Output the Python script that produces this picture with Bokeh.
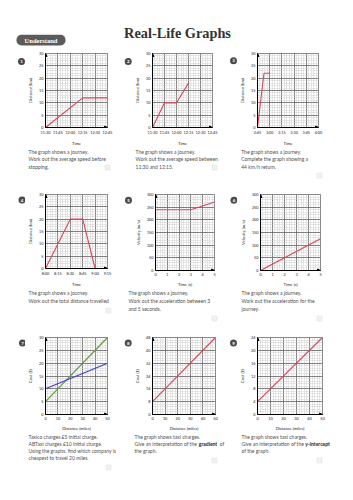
from bokeh.plotting import figure
from bokeh.layouts import column, row
from bokeh.models import Range1d, FixedTicker, Label, Arrow, NormalHead
from bokeh.embed import file_html
from bokeh.resources import INLINE

# ---------------- data ----------------
title_text = "Real-Life Graphs"
badge_text = "Understand"

p1_tick_labels = ["11:30", "11:45", "12:00", "12:15", "12:30", "12:45"]
p1_time = ["11:30", "12:15", "12:45"]
p1_distance = [0, 12, 12]

p2_tick_labels = ["11:30", "11:45", "12:00", "12:15", "12:30", "12:45"]
p2_time = ["11:30", "11:45", "12:00", "12:15"]
p2_distance = [0, 10, 10, 18]

p3_tick_labels = ["2:45", "3:00", "3:15", "3:30", "3:45", "4:00"]
p3_time = ["2:45", "2:53", "3:00"]
p3_distance = [0, 22, 22]

p4_tick_labels = ["8:00", "8:15", "8:30", "8:45", "9:00", "9:15"]
p4_time = ["8:00", "8:30", "8:45", "9:00"]
p4_distance = [0, 20, 20, 0]

p5_time = [0, 3, 5]
p5_velocity = [240, 240, 270]

p6_time = [0, 5]
p6_velocity = [0, 125]

p7_distance = [0, 50]
p7_taxico = [5, 30]
p7_abtaxi = [10, 20]

p8_distance = [0, 50]
p8_cost = [8, 48]

p9_distance = [0, 50]
p9_cost = [4, 24]

time_ticks = [0, 15, 30, 45, 60, 75]
dist_ticks = [0, 5, 10, 15, 20, 25, 30]
time_s_ticks = [0, 1, 2, 3, 4, 5]
vel_ticks = [0, 50, 100, 150, 200, 250, 300]
miles_ticks = [0, 10, 20, 30, 40, 50]
cost7_ticks = [0, 5, 10, 15, 20, 25, 30]
cost8_ticks = [0, 8, 16, 24, 32, 40, 48]
cost9_ticks = [0, 4, 8, 12, 16, 20, 24]

q1 = ["The graph shows a journey.", "Work out the average speed before", "stopping."]
q2 = ["The graph shows a journey.", "Work out the average speed between", "11:30 and 12:15."]
q3 = ["The graph shows a journey.", "Complete the graph showing a", "44 km/h return."]
q4 = ["The graph shows a journey.", "Work out the total distance travelled"]
q5 = ["The graph shows a journey.", "Work out the acceleration between 3", "and 5 seconds."]
q6 = ["The graph shows a journey.", "Work out the acceleration for the", "journey."]
q7 = ["Taxico charges \u00a35 initial charge.", "ABTaxi charges \u00a310 initial charge.",
      "Using the graphs, find which company is", "cheapest to travel 20 miles."]
q8 = ["The graph shows taxi charges.", "Give an interpretation of the ", "the graph."]
q9 = ["The graph shows taxi charges.", "Give an interpretation of the ", "of the graph."]

RED = "#d8465c"
GREEN = "#5e9b3a"
BLUE = "#3f3fcf"
TXT = "#505050"
FONT = "Lato"


def minutes(t, base):
    h, m = t.split(":")
    bh, bm = base.split(":")
    return (int(h) * 60 + int(m)) - (int(bh) * 60 + int(bm))


def blank(width, height, x0, y0):
    p = figure(width=width, height=height, x_range=Range1d(x0, x0 + width),
               y_range=Range1d(y0 + height, y0), output_backend="svg",
               toolbar_location=None, min_border=0)
    p.axis.visible = False
    p.grid.visible = False
    p.outline_line_color = None
    return p


def chart(width, height, left, right, top, bottom, xticks, xlabels, yticks, xlabel, ylabel):
    x_end = xticks[-1]
    y_end = yticks[-1]
    p = figure(width=width, height=height, x_range=Range1d(0, x_end), y_range=Range1d(0, y_end),
               output_backend="svg", toolbar_location=None,
               min_border_left=left, min_border_right=right,
               min_border_top=top, min_border_bottom=bottom)
    xs = (xticks[1] - xticks[0]) / 5
    ys = (yticks[1] - yticks[0]) / 5
    xminor = [i * xs for i in range(int(round(x_end / xs)) + 1)]
    yminor = [i * ys for i in range(int(round(y_end / ys)) + 1)]
    p.xaxis.ticker = FixedTicker(ticks=xticks, minor_ticks=xminor)
    p.yaxis.ticker = FixedTicker(ticks=yticks, minor_ticks=yminor)
    p.xgrid.ticker = p.xaxis.ticker
    p.ygrid.ticker = p.yaxis.ticker
    if xlabels is not None:
        p.xaxis.major_label_overrides = {t: l for t, l in zip(xticks, xlabels)}
    for g in (p.xgrid, p.ygrid):
        g.grid_line_color = "#555555"
        g.grid_line_width = 0.7
        g.minor_grid_line_color = "#cccccc"
        g.minor_grid_line_width = 0.45
    p.outline_line_color = "#555555"
    p.outline_line_width = 0.7
    for ax in (p.xaxis, p.yaxis):
        ax.axis_line_color = "black"
        ax.axis_line_width = 1
        ax.major_tick_line_color = None
        ax.minor_tick_line_color = None
        ax.major_tick_out = 0
        ax.major_tick_in = 0
        ax.minor_tick_out = 0
        ax.minor_tick_in = 0
        ax.major_label_text_font = FONT
        ax.major_label_text_font_size = "3.8px"
        ax.major_label_text_color = "#222"
        ax.major_label_standoff = 2
        ax.axis_label_text_font = FONT
        ax.axis_label_text_font_size = "4.2px"
        ax.axis_label_text_font_style = "normal"
        ax.axis_label_text_color = "#222"
        ax.axis_label_standoff = 3
    p.xaxis.axis_label = xlabel
    p.yaxis.axis_label = ylabel
    p.add_layout(Arrow(end=NormalHead(size=3, fill_color="black", line_color="black"),
                       x_start=0, y_start=0, x_end=x_end, y_end=0,
                       line_color="black", line_width=1))
    p.add_layout(Arrow(end=NormalHead(size=3, fill_color="black", line_color="black"),
                       x_start=0, y_start=0, x_end=0, y_end=y_end,
                       line_color="black", line_width=1))
    return p


def circle_fig(num, width, height, x0, y0, cx, cy):
    p = blank(width, height, x0, y0)
    p.scatter([cx], [cy], marker="circle", size=7, fill_color="#4a4a4a", line_color=None)
    p.add_layout(Label(x=cx, y=cy + 0.2, text=str(num), text_font=FONT, text_font_size="4.5px",
                       text_font_style="bold", text_color="white",
                       text_align="center", text_baseline="middle"))
    return p


def text_fig(width, height, x0, y0, tx, lines, ys, box):
    p = blank(width, height, x0, y0)
    for txt, yy in zip(lines, ys):
        p.add_layout(Label(x=tx, y=yy, text=txt, text_font=FONT, text_font_size="5px",
                           text_color=TXT, text_align="left", text_baseline="middle"))
    p.rect([box[0]], [box[1]], width=5, height=5, fill_color="#f2f2f2", line_color="#dcdcdc",
           line_width=0.5)
    return p


# layout geometry (page pixels)
COL_X = [0, 116, 229]
COL_W = [116, 113, 124]
COL_CW = [25, 16, 8]

# row 1: y 46..188  (chart 46..148, text 148..188)
# row 2: y 188..330 (chart 188..289, text 289..330)
# row 3: y 330..500 (chart 330..433, text 433..500)
ROWS = [(46, 102, 40, 7, 15), (188, 101, 41, 6, 15), (330, 103, 67, 7, 16)]


def cell(r, c, num, frame_l, frame_r, circ, tx, lines, ys, box, xticks, xlabels, yticks, xlabel, ylabel):
    y0, ch, th, top, bottom = ROWS[r]
    x0, W, cw = COL_X[c], COL_W[c], COL_CW[c]
    cf = circle_fig(num, cw, ch, x0, y0, circ[0], circ[1])
    left = int(round(frame_l - (x0 + cw)))
    right = int(round(x0 + W - frame_r))
    f = chart(W - cw, ch, left, right, top, bottom, xticks, xlabels, yticks, xlabel, ylabel)
    tf = text_fig(W, th, x0, y0 + ch, tx, lines, ys, box)
    return f, tf, column(row(cf, f), tf)


r1y = [151, 158.7, 166.5]
r2y = [292, 300, 308]
r3y = [436, 443, 450, 457]

f1, t1, c1 = cell(0, 0, 1, 41, 107, (21, 57), 28, q1, r1y, (107, 167),
                  time_ticks, p1_tick_labels, dist_ticks, "Time", "Distance (km)")
f1.line([minutes(t, p1_tick_labels[0]) for t in p1_time], p1_distance, line_color=RED, line_width=1.1)

f2, t2, c2 = cell(0, 1, 2, 147, 212, (127.7, 57), 135, q2, r1y, (214, 167),
                  time_ticks, p2_tick_labels, dist_ticks, "Time", "Distance (km)")
f2.line([minutes(t, p2_tick_labels[0]) for t in p2_time], p2_distance, line_color=RED, line_width=1.1)

f3, t3, c3 = cell(0, 2, 3, 252, 318, (233, 56), 240.7, q3, r1y, (319, 175),
                  time_ticks, p3_tick_labels, dist_ticks, "Time", "Distance (km)")
f3.line([minutes(t, p3_tick_labels[0]) for t in p3_time], p3_distance, line_color=RED, line_width=1.1)

f4, t4, c4 = cell(1, 0, 4, 41, 107, (21.5, 195.5), 28, q4, r2y, (108, 310),
                  time_ticks, p4_tick_labels, dist_ticks, "Time", "Distance (km)")
f4.line([minutes(t, p4_tick_labels[0]) for t in p4_time], p4_distance, line_color=RED, line_width=1.1)

f5, t5, c5 = cell(1, 1, 5, 148, 214, (128, 195.5), 128, q5, r2y, (214, 318),
                  time_s_ticks, None, vel_ticks, "Time (s)", "Velocity (m/s)")
f5.line(p5_time, p5_velocity, line_color=RED, line_width=1.1)

f6, t6, c6 = cell(1, 2, 6, 254, 320, (233.5, 195.5), 241, q6, r2y, (319, 318),
                  time_s_ticks, None, vel_ticks, "Time (s)", "Velocity (m/s)")
f6.line(p6_time, p6_velocity, line_color=RED, line_width=1.1)

f7, t7, c7 = cell(2, 0, 7, 41, 107, (22, 337.5), 28, q7, r3y, (108, 467),
                  miles_ticks, None, cost7_ticks, "Distance (miles)", "Cost (\u00a3)")
f7.line(p7_distance, p7_taxico, line_color=GREEN, line_width=1.1)
f7.line(p7_distance, p7_abtaxi, line_color=BLUE, line_width=1.1)

f8, t8, c8 = cell(2, 1, 8, 149, 215, (127.7, 337.5), 134, q8, r3y, (214, 460),
                  miles_ticks, None, cost8_ticks, "Distance (miles)", "Cost (\u00a3)")
f8.line(p8_distance, p8_cost, line_color=RED, line_width=1.1)
t8.add_layout(Label(x=198.3, y=r3y[1], text="gradient", text_font=FONT, text_font_size="5px",
                    text_font_style="bold", text_color="#222", text_align="left", text_baseline="middle"))
t8.add_layout(Label(x=219.3, y=r3y[1], text="of", text_font=FONT, text_font_size="5px",
                    text_color=TXT, text_align="left", text_baseline="middle"))

f9, t9, c9 = cell(2, 2, 9, 255, 322, (233, 337.5), 241, q9, r3y, (319, 460),
                  miles_ticks, None, cost9_ticks, "Distance (miles)", "Cost (\u00a3)")
f9.line(p9_distance, p9_cost, line_color=RED, line_width=1.1)
t9.add_layout(Label(x=304.8, y=r3y[1], text="y-intercept", text_font=FONT, text_font_size="5px",
                    text_font_style="bold", text_color="#222", text_align="left", text_baseline="middle"))

# ---- header
h = blank(353, 46, 0, 0)
h.quad(left=[16], right=[65], top=[34.3], bottom=[45], fill_color="#5b5b5b",
       line_color=None, border_radius=5)
h.add_layout(Label(x=40.5, y=40, text=badge_text, text_font="Liberation Serif",
                   text_font_style="bold", text_font_size="6.5px", text_color="white",
                   text_align="center", text_baseline="middle"))
h.add_layout(Label(x=177, y=32.3, text=title_text, text_font="Liberation Serif",
                   text_font_style="bold", text_font_size="14.3px", text_color="#333333",
                   text_align="center", text_baseline="alphabetic"))

layout = column(h, row(c1, c2, c3), row(c4, c5, c6), row(c7, c8, c9))
open("out.html", "w").write(file_html(layout, INLINE))
